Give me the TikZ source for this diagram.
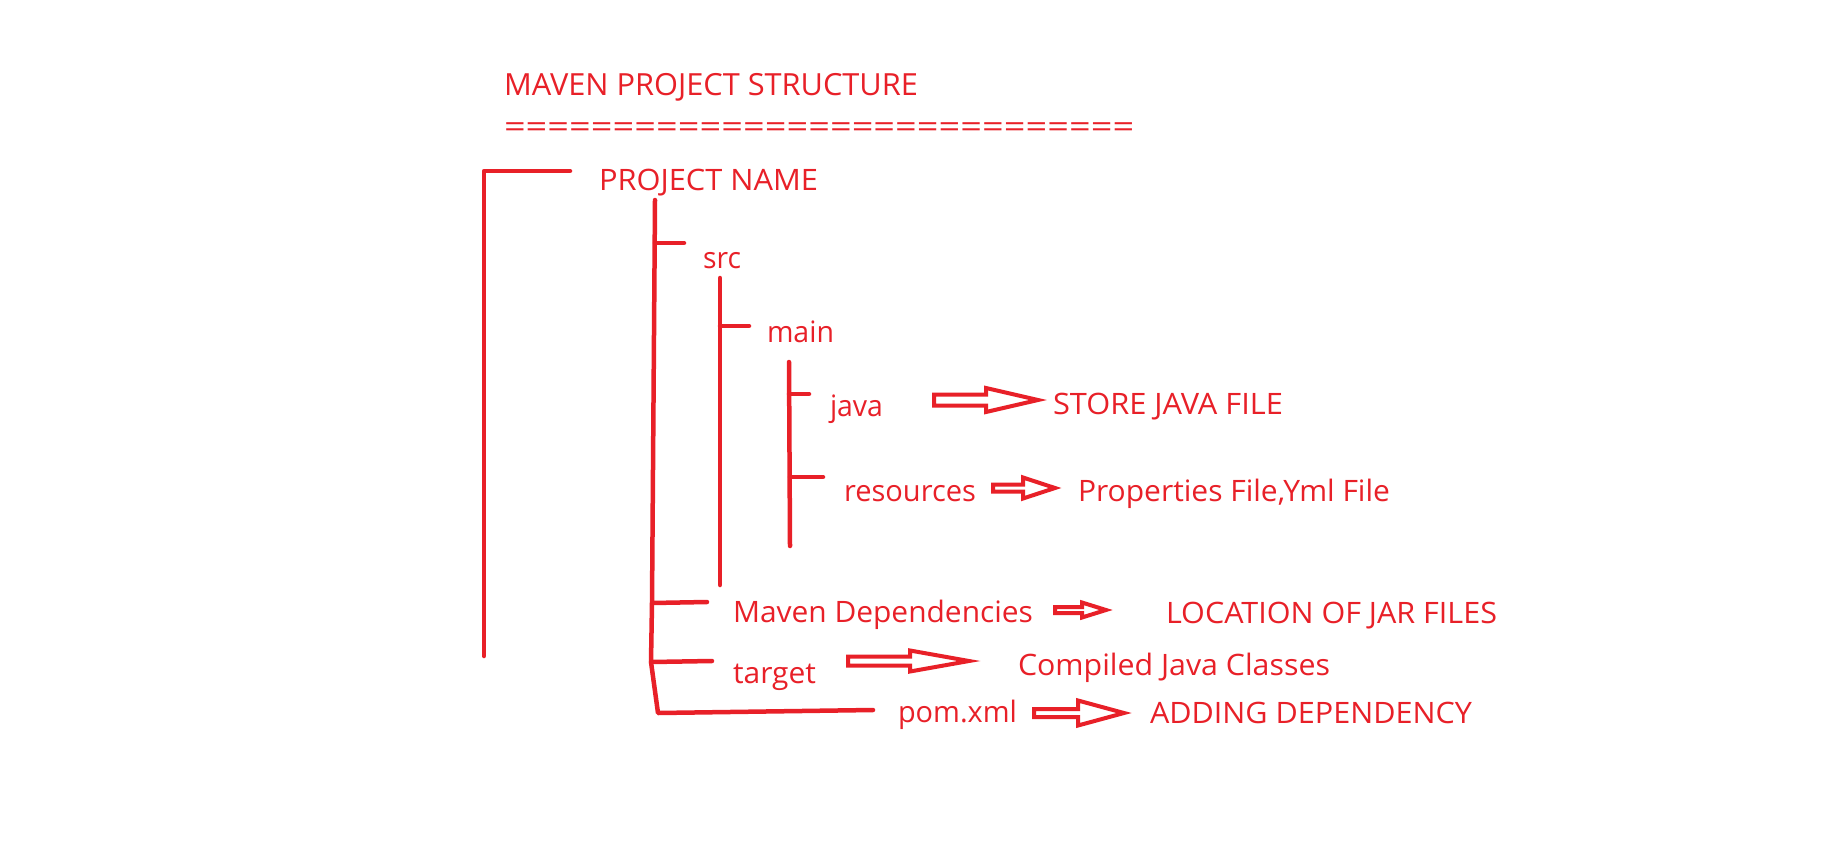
\documentclass[tikz,border=0pt]{standalone}
\usepackage{fontspec}
\setmainfont{Open Sans}
\usepackage{graphicx}
\definecolor{mred}{RGB}{232,32,40}
\newcommand\fitw[2]{\resizebox{#1pt}{\height}{#2}}
\newcommand\blockarr[6]{%
  \draw[blk] (#1,#4-#5) -- (#2,#4-#5) -- (#2,#4-#6) -- (#3,#4) -- (#2,#4+#6) -- (#2,#4+#5) -- (#1,#4+#5) -- cycle;}
\begin{document}
\begin{tikzpicture}[x=1pt,y=-1pt,
  lbl/.style={anchor=base west, inner sep=0pt, outer sep=0pt, text=mred, font=\fontsize{29.5}{30}\selectfont},
  ttl/.style={lbl, font=\fontsize{30.5}{31}\selectfont},
  tree/.style={draw=mred, line width=4.5pt, line cap=round, line join=round},
  blk/.style={draw=mred, line width=4pt, line join=miter, fill=white}]
\useasboundingbox[fill=white] (0,0) rectangle (1831,846);

% texts
\node[ttl] (title) at (504,95) {\fitw{414}{MAVEN PROJECT STRUCTURE}};
\node[ttl] (eq) at (504,137) {\fitw{630}{=============================}};
\node[lbl] (proj) at (599,190) {\fitw{219}{PROJECT NAME}};
\node[lbl] (src) at (703,268) {\fitw{38}{src}};
\node[lbl] (main) at (767,342) {\fitw{67}{main}};
\node[lbl] (java) at (830,416) {\fitw{53}{java}};
\node[lbl] (res) at (844,501) {\fitw{132}{resources}};
\node[lbl] (mvn) at (733,622) {\fitw{300}{Maven Dependencies}};
\node[lbl] (tgt) at (733,683) {\fitw{83}{target}};
\node[lbl] (pom) at (898,722) {\fitw{119}{pom.xml}};
\node[lbl] (store) at (1053,414) {\fitw{230}{STORE JAVA FILE}};
\node[lbl] (props) at (1078,501) {\fitw{312}{Properties File,Yml File}};
\node[lbl] (loc) at (1166,623) {\fitw{331}{LOCATION OF JAR FILES}};
\node[lbl] (comp) at (1018,675) {\fitw{312}{Compiled Java Classes}};
\node[lbl] (add) at (1150,723) {\fitw{322}{ADDING DEPENDENCY}};

% tree lines
\coordinate (r0) at (570,171);
\coordinate (r1) at (484,171);
\coordinate (r2) at (484,656);
\draw[tree] (r0) -- (r1) -- (r2);

\coordinate (p0) at (655,200);
\coordinate (p1) at (651,662);
\coordinate (p2) at (658,713);
\coordinate (p3) at (873,710);
\draw[tree] (p0) -- (652,603) -- (p1) -- (p2) -- (p3);
\draw[tree] (655,243) -- (684,243);
\draw[tree] (652,603) -- (707,602);
\draw[tree] (p1) -- (712,661);

\coordinate (s0) at (720,278);
\coordinate (s1) at (720,585);
\draw[tree] (s0) -- (s1);
\draw[tree] (720,326) -- (749,326);

\coordinate (m0) at (789,362);
\coordinate (m1) at (790,546);
\draw[tree] (m0) -- (m1);
\draw[tree] (789,394) -- (809,394);
\draw[tree] (790,477) -- (823,477);

% block arrows
\blockarr{934}{986}{1038}{400}{5.5}{12}
\blockarr{993}{1023}{1055}{488}{3.5}{10.5}
\blockarr{1055}{1082}{1106}{610}{3}{7.5}
\blockarr{848}{910}{969}{661}{4.5}{10.5}
\blockarr{1034}{1078}{1124}{713}{4}{12.5}
\end{tikzpicture}
\end{document}
